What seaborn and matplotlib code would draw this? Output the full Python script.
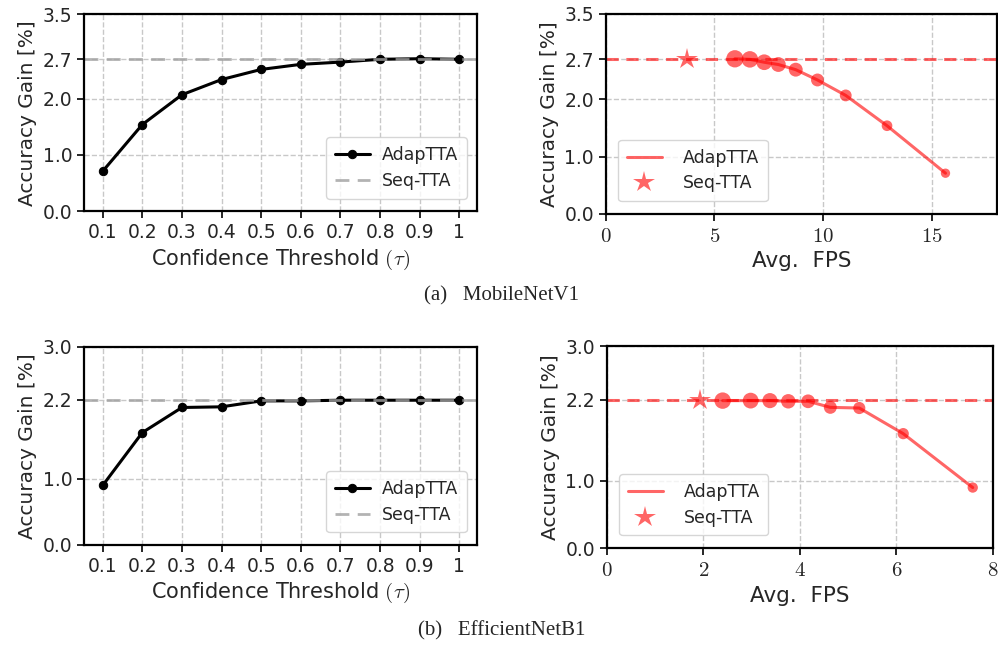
import numpy as np
import pandas as pd
import matplotlib
matplotlib.use("Agg")
import matplotlib.pyplot as plt
import seaborn as sns
from matplotlib.ticker import FormatStrFormatter

# confidence thresholds
thresholds = [0.1, 0.2, 0.3, 0.4, 0.5, 0.6, 0.7, 0.8, 0.9, 1.0]
threshold_labels = ["0.1", "0.2", "0.3", "0.4", "0.5", "0.6", "0.7", "0.8", "0.9", "1"]

# MobileNetV1
mb_gain = [0.71, 1.54, 2.07, 2.34, 2.52, 2.61, 2.65, 2.70, 2.71, 2.70]
mb_seq_gain = 2.7
mb_fps = [15.63, 12.94, 11.04, 9.74, 8.74, 7.94, 7.29, 6.63, 5.94]   # thresholds 0.1..0.9
mb_seq_fps = 3.74
mb_yticks = [0.0, 1.0, 2.0, 2.7, 3.5]

# EfficientNetB1
eff_gain = [0.90, 1.70, 2.08, 2.09, 2.18, 2.18, 2.19, 2.19, 2.19, 2.19]
eff_seq_gain = 2.2
eff_fps = [7.58, 6.14, 5.23, 4.63, 4.17, 3.76, 3.38, 2.98, 2.40]
eff_seq_fps = 1.93
eff_yticks = [0.0, 1.0, 2.2, 3.0]

sns.set_style("ticks")
plt.rcParams["font.family"] = ["DejaVu Sans"]
plt.rcParams["mathtext.fontset"] = "cm"
plt.rcParams["axes.linewidth"] = 1.6

fig = plt.figure(figsize=(9.98, 6.48), dpi=100)

ax_tl = fig.add_axes([0.0842, 0.674, 0.394, 0.304])
ax_tr = fig.add_axes([0.607, 0.670, 0.392, 0.309])
ax_bl = fig.add_axes([0.0842, 0.159, 0.394, 0.306])
ax_br = fig.add_axes([0.608, 0.154, 0.387, 0.312])

RED = "red"


def style_axes(ax, yticks, ymax):
    ax.set_ylim(0, ymax)
    ax.set_yticks(yticks)
    ax.yaxis.set_major_formatter(FormatStrFormatter("%.1f"))
    ax.grid(True, linestyle="--", color="#c8c8c8", linewidth=1.0)
    ax.set_axisbelow(True)
    for s in ax.spines.values():
        s.set_color("black")
        s.set_linewidth(1.6)
    ax.tick_params(axis="both", direction="out", length=5, width=1.4, labelsize=13.5)
    ax.set_ylabel("Accuracy Gain [%]", fontsize=14.5)


def threshold_panel(ax, gain, seq_gain, yticks, ymax):
    df = pd.DataFrame({"thr": thresholds, "gain": gain})
    sns.lineplot(data=df, x="thr", y="gain", ax=ax, color="black", linewidth=2.2,
                 marker="o", markersize=6, markeredgecolor="black", label="AdapTTA")
    ax.axhline(seq_gain, color="#a0a0a0", linestyle="--", linewidth=2, alpha=0.8,
               dashes=(5, 3), label="Seq-TTA")
    ax.set_xlim(0.053, 1.045)
    ax.set_xticks(thresholds)
    ax.set_xticklabels(threshold_labels)
    style_axes(ax, yticks, ymax)
    ax.set_xlabel(r"Confidence Threshold $(\tau)$", fontsize=15)
    ax.legend(loc="lower right", fontsize=12.5, frameon=True, fancybox=True,
              handlelength=2.0, handletextpad=0.7, borderpad=0.5, labelspacing=0.45,
              bbox_to_anchor=(0.995, 0.02))


def fps_panel(ax, fps, gain, seq_fps, seq_gain, xmax, xstep, yticks, ymax, sizes):
    df = pd.DataFrame({"fps": fps, "gain": gain[:len(fps)], "thr": thresholds[:len(fps)]})
    ax.axhline(seq_gain, color=RED, linestyle="--", linewidth=2.2, alpha=0.6, dashes=(4, 2.5))
    sns.lineplot(data=df, x="fps", y="gain", ax=ax, color=RED, alpha=0.6, linewidth=2.2,
                 sort=False, label="AdapTTA")
    sns.scatterplot(data=df, x="fps", y="gain", size="thr", sizes=sizes,
                    ax=ax, color=RED, alpha=0.6, edgecolor="none", legend=False)
    ax.plot([seq_fps], [seq_gain], linestyle="none", marker="*", markersize=16,
            color=RED, alpha=0.6, markeredgewidth=0, label="Seq-TTA")
    ax.set_xlim(0, xmax)
    ax.set_xticks(np.arange(0, xmax + 0.01, xstep))
    ax.xaxis.set_major_formatter(FormatStrFormatter("$%d$"))
    style_axes(ax, yticks, ymax)
    ax.tick_params(axis="x", labelsize=15)
    ax.set_xlabel("Avg.  FPS", fontsize=15.5)
    ax.legend(loc="lower left", fontsize=12.5, frameon=True, fancybox=True,
              handlelength=2.0, handletextpad=1.2, borderpad=0.5, labelspacing=0.45,
              bbox_to_anchor=(0.01, 0.02))


threshold_panel(ax_tl, mb_gain, mb_seq_gain, mb_yticks, 3.5)
fps_panel(ax_tr, mb_fps, mb_gain, mb_seq_fps, mb_seq_gain, 18, 5, mb_yticks, 3.5, (45, 155))
threshold_panel(ax_bl, eff_gain, eff_seq_gain, eff_yticks, 3.0)
fps_panel(ax_br, eff_fps, eff_gain, eff_seq_fps, eff_seq_gain, 8, 2, eff_yticks, 3.0, (55, 140))

fig.text(0.503, 1 - 296 / 648, "(a)   MobileNetV1", ha="center", va="center",
         fontsize=15, family="Liberation Serif")
fig.text(0.503, 1 - 631 / 648, "(b)   EfficientNetB1", ha="center", va="center",
         fontsize=15, family="Liberation Serif")

fig.savefig("out.png", dpi=100)
